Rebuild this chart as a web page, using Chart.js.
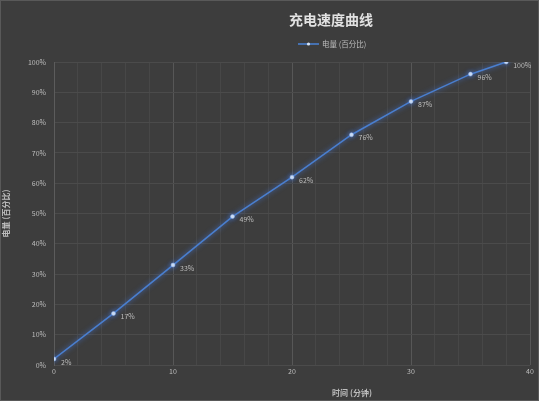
<!DOCTYPE html>
<html>
<head>
<meta charset="utf-8">
<script src="https://cdn.jsdelivr.net/npm/chart.js@4/dist/chart.umd.min.js"></script>
<style>
	html, body { margin: 0; padding: 0; background: #3d3d3d; }
	#wrap { width: 539px; height: 401px; position: relative; box-sizing: border-box; border: 1px solid #595959; }
</style>
</head>
<body>
<div id="wrap"><canvas id="chart"></canvas></div>
<script>
// chart data
const minutes = [0, 5, 10, 15, 20, 25, 30, 35, 38];
const charge = [2, 17, 33, 49, 62, 76, 87, 96, 100];
const xTicks = [0, 10, 20, 30, 40];
const yTicks = [0, 10, 20, 30, 40, 50, 60, 70, 80, 90, 100];
const seriesName = '电量 (百分比)';

const FONT = '"Noto Sans CJK SC", "Noto Sans", sans-serif';
const txt = '#bdbdbd';
const lineColor = '#4a7fcf';

// glow behind the line
const glow = {
	id: 'glow',
	beforeDatasetDraw(chart) {
		chart.ctx.save();
		chart.ctx.shadowColor = 'rgba(70,120,220,0.9)';
		chart.ctx.shadowBlur = 5;
	},
	afterDatasetDraw(chart) {
		chart.ctx.restore();
	}
};

// value labels right of each point
const pointLabels = {
	id: 'pointLabels',
	afterDatasetsDraw(chart) {
		const ctx = chart.ctx;
		const meta = chart.getDatasetMeta(0);
		ctx.save();
		ctx.font = '7px ' + FONT;
		ctx.fillStyle = txt;
		ctx.textBaseline = 'middle';
		meta.data.forEach((pt, i) => {
			ctx.fillText(charge[i] + '%', pt.x + 7, pt.y + 3);
		});
		ctx.restore();
	}
};

// title, legend and x title sit off-centre in the original, so draw them here
const headings = {
	id: 'headings',
	afterDraw(chart) {
		const ctx = chart.ctx;
		ctx.save();
		ctx.textBaseline = 'middle';
		ctx.textAlign = 'center';
		ctx.fillStyle = '#e2e2e2';
		ctx.font = 'bold 14px ' + FONT;
		ctx.fillText('充电速度曲线', 330, 19);

		// legend: line sample with marker, then the series name
		ctx.strokeStyle = lineColor;
		ctx.lineWidth = 1.6;
		ctx.beginPath();
		ctx.moveTo(297, 43);
		ctx.lineTo(318, 43);
		ctx.stroke();
		ctx.fillStyle = '#d6e4f7';
		ctx.beginPath();
		ctx.arc(307.5, 43, 1.6, 0, Math.PI * 2);
		ctx.fill();
		ctx.textAlign = 'left';
		ctx.fillStyle = txt;
		ctx.font = '7.5px ' + FONT;
		ctx.fillText(seriesName, 321, 43);

		ctx.textAlign = 'center';
		ctx.font = 'bold 8px ' + FONT;
		ctx.fillText('时间 (分钟)', 351, 392);
		ctx.restore();
	}
};

new Chart(document.getElementById('chart'), {
	type: 'line',
	data: {
		datasets: [{
			label: seriesName,
			data: minutes.map((m, i) => ({ x: m, y: charge[i] })),
			borderColor: lineColor,
			borderWidth: 1.6,
			pointRadius: 2,
			pointBackgroundColor: '#d6e4f7',
			pointBorderColor: '#8fb3e8',
			pointBorderWidth: 0.5,
			tension: 0
		}]
	},
	options: {
		responsive: true,
		maintainAspectRatio: false,
		animation: false,
		layout: { padding: { left: 0, right: 8, top: 61, bottom: 0 } },
		plugins: {
			title: { display: false },
			legend: { display: false },
			tooltip: { enabled: false }
		},
		scales: {
			x: {
				type: 'linear',
				min: 0,
				max: 40,
				afterFit: s => { s.height = 35; },
				afterBuildTicks: s => {
					const t = [];
					for (let v = 0; v <= 40; v += 2) t.push({ value: v });
					s.ticks = t;
				},
				ticks: {
					color: txt,
					font: { family: FONT, size: 7 },
					maxRotation: 0,
					autoSkip: false,
					padding: 2,
					callback: v => xTicks.includes(v) ? v : ''
				},
				grid: {
					color: c => (c.tick && c.tick.value % 10 === 0) ? '#575757' : '#474747',
					drawTicks: false
				},
				border: { display: false }
			},
			y: {
				min: 0,
				max: 100,
				afterFit: s => { s.width = 53; },
				afterBuildTicks: s => { s.ticks = yTicks.map(v => ({ value: v })); },
				ticks: {
					color: txt,
					font: { family: FONT, size: 7 },
					padding: 8,
					callback: v => v + '%'
				},
				grid: { color: '#4b4b4b', drawTicks: false },
				border: { display: true, color: '#5c5c5c' },
				title: {
					display: true,
					text: seriesName,
					color: txt,
					font: { family: FONT, size: 8, weight: 'bold' },
					padding: 0
				}
			}
		}
	},
	plugins: [glow, pointLabels, headings]
});
</script>
</body>
</html>
